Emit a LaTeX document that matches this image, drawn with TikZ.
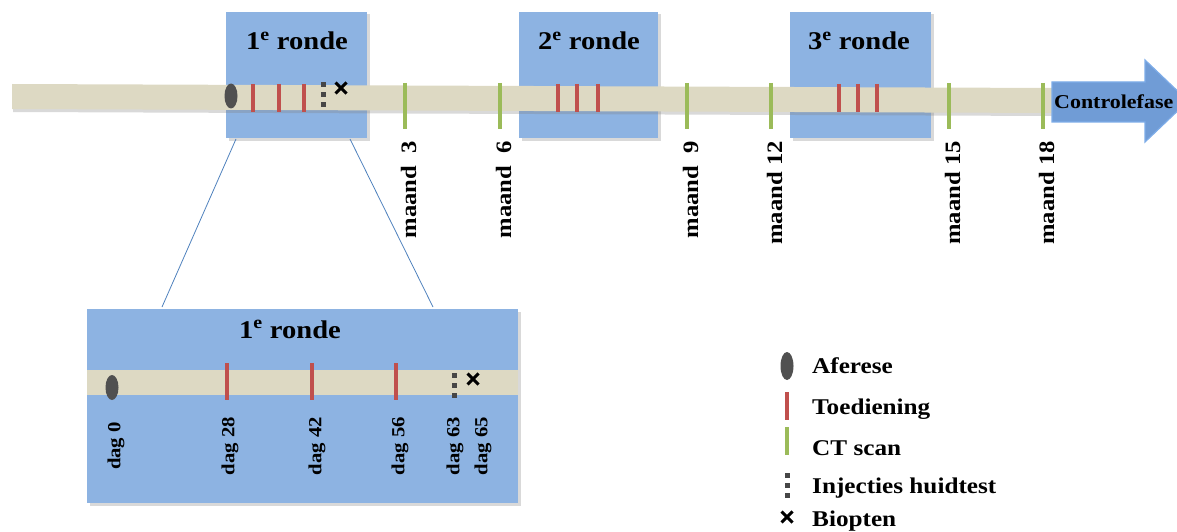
\documentclass[tikz,border=0pt]{standalone}
\usepackage{fontspec}
\setmainfont[FakeStretch=1.12]{Liberation Serif}
\usetikzlibrary{shadows}
\definecolor{boxblue}{RGB}{141,179,226}
\definecolor{barbeige}{RGB}{221,217,195}
\definecolor{tred}{RGB}{192,80,77}
\definecolor{tgreen}{RGB}{155,187,89}
\definecolor{arrowblue}{RGB}{112,156,214}
\definecolor{arrowedge}{RGB}{125,172,232}
\definecolor{linkblue}{RGB}{79,129,189}
\definecolor{dotgray}{RGB}{70,70,70}
\definecolor{ellgray}{RGB}{80,80,80}
\begin{document}
\begin{tikzpicture}[x=1pt,y=-1pt,
  rondebox/.style={fill=boxblue, draw=none, outer sep=0pt, inner sep=0pt, anchor=north west,
    drop shadow={shadow xshift=2.5pt,shadow yshift=-2.5pt,opacity=.3}},
  barstyle/.style={fill=barbeige, drop shadow={shadow xshift=1pt,shadow yshift=-3pt,opacity=.3}},
  title/.style={font=\fontsize{25.5}{28}\selectfont\bfseries, inner sep=0pt, anchor=base},
  monthlbl/.style={font=\fontsize{22}{26}\selectfont\bfseries, rotate=90, anchor=base east, inner sep=0pt},
  daylbl/.style={font=\fontsize{18.5}{22}\selectfont\bfseries, rotate=90, inner sep=0pt},
  leglbl/.style={font=\fontsize{22.5}{26}\selectfont\bfseries, anchor=base west, inner sep=0pt},
  redtick/.style={draw=tred, line width=4.5pt},
  greentick/.style={draw=tgreen, line width=4pt},
  link/.style={draw=linkblue, line width=0.8pt},
  dotcol/.pic={\foreach \k in {-10,0,10} \fill[dotgray] (-2.5,\k-2.5) rectangle ++(5,5);},
  cross/.pic={\draw[line width=3pt] (-5.5,-5.5) -- (5.5,5.5) (-5.5,5.5) -- (5.5,-5.5);},
  afer/.pic={\fill[ellgray] (0,0) ellipse [x radius=6.5pt, y radius=12.5pt];}
]
\useasboundingbox (0,0) rectangle (1177,532);

% round boxes
\node[rondebox, minimum width=141pt, minimum height=126pt] (r1) at (226,12) {};
\node[rondebox, minimum width=139pt, minimum height=126pt] (r2) at (519,12) {};
\node[rondebox, minimum width=141pt, minimum height=126pt] (r3) at (790,12) {};
\node[rondebox, minimum width=431pt, minimum height=194pt] (zb) at (87,309) {};

% main bar
\path[barstyle] (12,84) -- (1055,88) -- (1055,113) -- (12,109) -- cycle;

% arrow
\path[fill=arrowblue, draw=arrowedge, line width=1.2pt]
  (1052,82) -- (1145,82) -- (1145,60) -- (1188,101) -- (1145,142) -- (1145,122) -- (1052,122) -- cycle;
\node[font=\fontsize{19.6}{22}\selectfont\bfseries, anchor=west, inner sep=0pt] (ctrl) at (1054,102) {Controlefase};

% titles
\node[title] (t1) at (297,50) {1\textsuperscript{e} ronde};
\node[title] (t2) at (589,50) {2\textsuperscript{e} ronde};
\node[title] (t3) at (859,50) {3\textsuperscript{e} ronde};

% markers on main bar
\pic at (231,96) {afer};
\foreach \x in {253,279,304,558,577,598,839,858,877} \draw[redtick] (\x,84) -- (\x,112);
\pic at (323,95) {dotcol};
\pic at (341,88) {cross};
\foreach \x in {405,500,687,771,949,1043} \draw[greentick] (\x,83) -- (\x,129);

% month labels
\node[monthlbl] (m3) at (416,141) {maand\ \ 3};
\node[monthlbl] (m6) at (511,141) {maand\ \ 6};
\node[monthlbl] (m9) at (698,141) {maand\ \ 9};
\node[monthlbl] (m12) at (782,141) {maand 12};
\node[monthlbl] (m15) at (960,141) {maand 15};
\node[monthlbl] (m18) at (1054,141) {maand 18};

% zoom lines
\coordinate (la) at (236,139);
\coordinate (lb) at (162,307);
\coordinate (ra) at (350,139);
\coordinate (rb) at (433,307);
\draw[link] (la) -- (lb);
\draw[link] (ra) -- (rb);

% zoomed box content
\node[title] (tz) at (290,338) {1\textsuperscript{e} ronde};
\fill[barbeige] (87,370) rectangle (518,395);
\pic at (112,387.5) {afer};
\foreach \x in {227,312,396} \draw[redtick] (\x,363) -- (\x,400);
\pic at (454,385) {dotcol};
\pic at (473,379) {cross};
\node[daylbl] (d0) at (116,446) {dag 0};
\node[daylbl] (d28) at (230,446) {dag 28};
\node[daylbl] (d42) at (317,446) {dag 42};
\node[daylbl] (d56) at (400,446) {dag 56};
\node[daylbl] (d63) at (455,446) {dag 63};
\node[daylbl] (d65) at (483,446) {dag 65};

% legend
\fill[ellgray] (787,366) ellipse [x radius=6.5pt, y radius=14pt];
\draw[redtick] (787,392) -- (787,420);
\draw[greentick] (787,427) -- (787,455);
\pic at (787,485) {dotcol};
\pic at (787,517) {cross};
\node[leglbl] (lg1) at (812,373) {Aferese};
\node[leglbl] (lg2) at (812,414) {Toediening};
\node[leglbl] (lg3) at (812,455) {CT scan};
\node[leglbl] (lg4) at (812,493) {Injecties huidtest};
\node[leglbl] (lg5) at (812,526) {Biopten};
\end{tikzpicture}
\end{document}
